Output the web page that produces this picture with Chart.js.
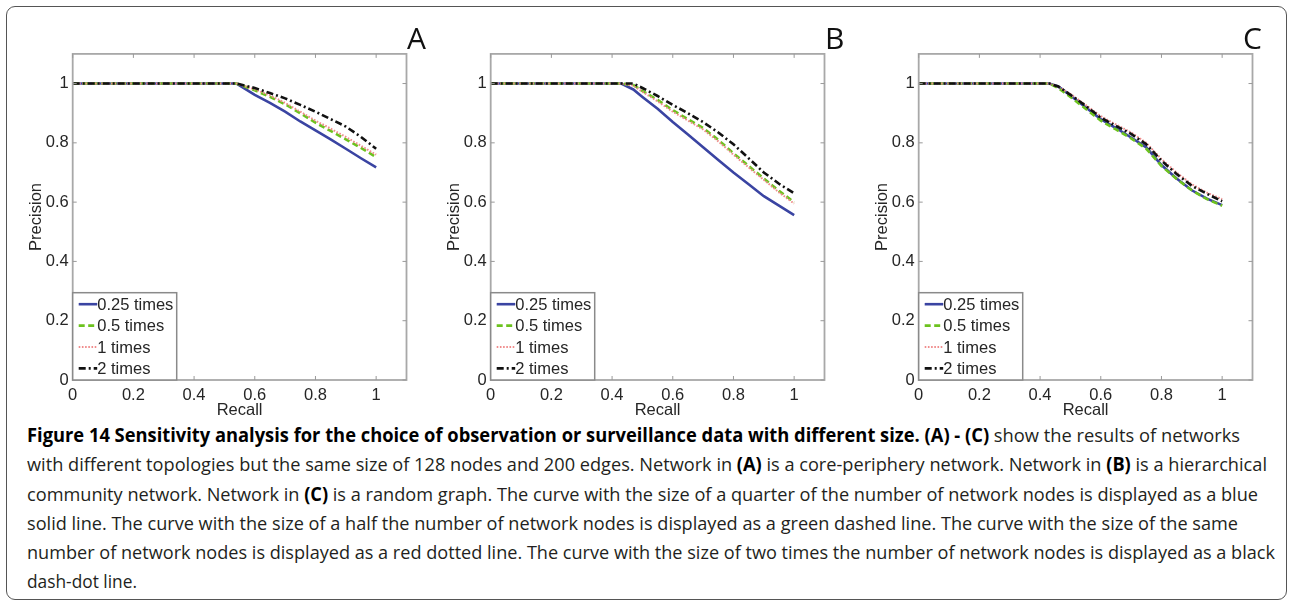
<!DOCTYPE html>
<html>
<head>
<meta charset="utf-8">
<script src="https://cdn.jsdelivr.net/npm/chart.js@4.4.1/dist/chart.umd.min.js"></script>
<style>
html,body{margin:0;padding:0;background:#fff;}
body{width:1290px;height:602px;position:relative;overflow:hidden;}
#frame{position:absolute;left:6px;top:6px;width:1279px;height:592px;border:1.5px solid #555;border-radius:9px;box-sizing:content-box;}
.panel{position:absolute;top:40px;width:400px;height:380px;}
.lbl{position:absolute;top:18px;font-family:'Open Sans',sans-serif;font-size:30px;color:#111;line-height:40px;}
#caption{position:absolute;left:27px;top:421px;font-family:'Open Sans',sans-serif;font-size:19px;line-height:29.3px;color:#231f20;white-space:nowrap;}
#caption .ln{display:block;transform-origin:left center;width:max-content;}
#caption b{color:#000;font-weight:700;}
</style>
</head>
<body>
<div id="frame"></div>
<div class="panel" style="left:10px"><canvas id="cA" width="400" height="380"></canvas></div>
<div class="panel" style="left:428px"><canvas id="cB" width="400" height="380"></canvas></div>
<div class="panel" style="left:856px"><canvas id="cC" width="400" height="380"></canvas></div>
<div class="lbl" style="left:407px">A</div>
<div class="lbl" style="left:825px">B</div>
<div class="lbl" style="left:1243px">C</div>
<div id="caption">
<span class="ln"><b>Figure 14 Sensitivity analysis for the choice of observation or surveillance data with different size. (A) - (C)</b> show the results of networks</span>
<span class="ln">with different topologies but the same size of 128 nodes and 200 edges. Network in <b>(A)</b> is a core-periphery network. Network in <b>(B)</b> is a hierarchical</span>
<span class="ln">community network. Network in <b>(C)</b> is a random graph. The curve with the size of a quarter of the number of network nodes is displayed as a blue</span>
<span class="ln">solid line. The curve with the size of a half the number of network nodes is displayed as a green dashed line. The curve with the size of the same</span>
<span class="ln">number of network nodes is displayed as a red dotted line. The curve with the size of two times the number of network nodes is displayed as a black</span>
<span class="ln">dash-dot line.</span>
</div>
<script>
// ---------------- data ----------------
const seriesNames = ['0.25 times', '0.5 times', '1 times', '2 times'];
const tickValues = [0, 0.2, 0.4, 0.6, 0.8, 1];
const tickLabels = ['0', '0.2', '0.4', '0.6', '0.8', '1'];

// Panel A (core-periphery network)
const recallA    = [0, 0.54, 0.6, 0.65, 0.7, 0.75, 0.8, 0.85, 0.9, 0.95, 1];
const quarterA   = [1, 1, 0.962, 0.935, 0.905, 0.872, 0.842, 0.812, 0.780, 0.748, 0.717];
const halfA      = [1, 1, 0.977, 0.955, 0.930, 0.900, 0.868, 0.840, 0.812, 0.783, 0.752];
const sameA      = [1, 1, 0.980, 0.960, 0.935, 0.905, 0.875, 0.848, 0.820, 0.790, 0.760];
const doubleA    = [1, 1, 0.985, 0.968, 0.950, 0.928, 0.905, 0.880, 0.855, 0.820, 0.780];

// Panel B (hierarchical community network)
const recallB    = [0, 0.43, 0.47, 0.5, 0.55, 0.6, 0.65, 0.7, 0.75, 0.8, 0.85, 0.9, 0.95, 1];
const quarterB   = [1, 1, 0.980, 0.955, 0.915, 0.870, 0.828, 0.785, 0.742, 0.700, 0.660, 0.620, 0.588, 0.556];
const halfB      = [1, 1, 0.995, 0.975, 0.945, 0.910, 0.880, 0.850, 0.810, 0.765, 0.722, 0.680, 0.638, 0.600];
const sameB      = [1, 1, 0.993, 0.972, 0.940, 0.905, 0.875, 0.845, 0.805, 0.760, 0.717, 0.675, 0.633, 0.595];
const doubleB    = [1, 1, 1.000, 0.985, 0.958, 0.928, 0.900, 0.870, 0.835, 0.795, 0.748, 0.700, 0.662, 0.630];

// Panel C (random graph)
const recallC    = [0, 0.43, 0.46, 0.5, 0.55, 0.6, 0.65, 0.7, 0.75, 0.8, 0.85, 0.9, 0.95, 1];
const quarterC   = [1, 1, 0.990, 0.960, 0.920, 0.880, 0.850, 0.818, 0.785, 0.725, 0.680, 0.640, 0.612, 0.590];
const halfC      = [1, 1, 0.985, 0.955, 0.915, 0.875, 0.845, 0.815, 0.780, 0.722, 0.678, 0.640, 0.610, 0.588];
const sameC      = [1, 1, 0.990, 0.965, 0.928, 0.890, 0.862, 0.835, 0.800, 0.745, 0.700, 0.660, 0.632, 0.610];
const doubleC    = [1, 1, 0.990, 0.962, 0.925, 0.885, 0.857, 0.830, 0.795, 0.740, 0.695, 0.655, 0.628, 0.603];

// ---------------- styles ----------------
const lineStyles = [
  {color: '#3a44a2', dash: [],            width: 2.6, order: 3},
  {color: '#6cc21e', dash: [6, 3.5],      width: 2.6, order: 2},
  {color: '#f08c8c', dash: [1.6, 1.6],    width: 2.0, order: 1},
  {color: '#111111', dash: [7, 3, 2, 3],  width: 2.6, order: 0}
];
const axisFont = {family: "'Liberation Sans', Arial, sans-serif", size: 16.5};
const textColor = '#262626';
const boxColor = '#a8a8a8';

Chart.defaults.font.family = axisFont.family;

const matlabPlugin = {
  id: 'matlabBox',
  afterDraw(chart) {
    const {ctx, chartArea: ca, scales} = chart;
    ctx.save();
    // box
    ctx.strokeStyle = boxColor;
    ctx.lineWidth = 1.8;
    ctx.strokeRect(ca.left, ca.top, ca.right - ca.left, ca.bottom - ca.top);
    // inward ticks on all sides
    ctx.lineWidth = 1;
    ctx.strokeStyle = '#999';
    const tl = 4;
    ctx.beginPath();
    tickValues.forEach(v => {
      const px = scales.x.getPixelForValue(v);
      ctx.moveTo(px, ca.bottom); ctx.lineTo(px, ca.bottom - tl);
      ctx.moveTo(px, ca.top); ctx.lineTo(px, ca.top + tl);
      const py = scales.y.getPixelForValue(v);
      ctx.moveTo(ca.left, py); ctx.lineTo(ca.left + tl, py);
      ctx.moveTo(ca.right, py); ctx.lineTo(ca.right - tl, py);
    });
    ctx.stroke();
    // legend box in the lower left corner
    const lw = 104, lh = 87.3;
    const lx = ca.left, ly = ca.bottom - lh;
    ctx.fillStyle = '#fff';
    ctx.fillRect(lx, ly, lw, lh);
    ctx.strokeStyle = '#8a8a8a';
    ctx.lineWidth = 1.5;
    ctx.strokeRect(lx, ly, lw, lh);
    ctx.font = axisFont.size + 'px ' + axisFont.family;
    ctx.textBaseline = 'middle';
    ctx.textAlign = 'left';
    chart.data.datasets.forEach((ds, i) => {
      const cy = ly + 11.5 + i * 21.4;
      ctx.beginPath();
      ctx.setLineDash(ds.borderDash || []);
      ctx.strokeStyle = ds.borderColor;
      ctx.lineWidth = ds.borderWidth;
      ctx.moveTo(lx + 6, cy);
      ctx.lineTo(lx + 24.5, cy);
      ctx.stroke();
      ctx.setLineDash([]);
      ctx.fillStyle = textColor;
      ctx.fillText(ds.label, lx + 24.5, cy + 1);
    });
    ctx.restore();
  }
};

function makeChart(id, recall, series) {
  const datasets = series.map((ys, i) => ({
    label: seriesNames[i],
    data: recall.map((x, j) => ({x: x, y: ys[j]})),
    borderColor: lineStyles[i].color,
    borderDash: lineStyles[i].dash,
    borderWidth: lineStyles[i].width,
    order: lineStyles[i].order,
    pointRadius: 0,
    tension: 0,
    fill: false
  }));
  return new Chart(document.getElementById(id), {
    type: 'line',
    data: {datasets},
    plugins: [matlabPlugin],
    options: {
      responsive: false,
      animation: false,
      events: [],
      layout: {padding: {top: 8.5, right: 3.5, left: 0, bottom: 0}},
      plugins: {legend: {display: false}, tooltip: {enabled: false}},
      scales: {
        x: {
          type: 'linear', min: 0, max: 1.1,
          afterBuildTicks: s => { s.ticks = tickValues.map(v => ({value: v})); },
          afterFit: s => { s.height = 40; },
          grid: {display: false, drawTicks: false},
          border: {display: false},
          ticks: {autoSkip: false, maxRotation: 0, padding: 6, color: textColor, font: axisFont,
                  callback: v => tickLabels[tickValues.indexOf(v)]},
          title: {display: true, text: 'Recall', color: textColor, font: axisFont, padding: {top: 0, bottom: 0}}
        },
        y: {
          type: 'linear', min: 0, max: 1.1,
          afterBuildTicks: s => { s.ticks = tickValues.map(v => ({value: v})); },
          afterFit: s => { s.width = 62.7; },
          grid: {display: false, drawTicks: false},
          border: {display: false},
          ticks: {autoSkip: false, padding: 4, color: textColor, font: axisFont,
                  callback: v => tickLabels[tickValues.indexOf(v)]},
          title: {display: true, text: 'Precision', color: textColor, font: axisFont, padding: {top: 16.5, bottom: 0}}
        }
      }
    }
  });
}

makeChart('cA', recallA, [quarterA, halfA, sameA, doubleA]);
makeChart('cB', recallB, [quarterB, halfB, sameB, doubleB]);
makeChart('cC', recallC, [quarterC, halfC, sameC, doubleC]);

// fit caption lines to the measured line lengths of the figure
const captionWidths = [1213, 1240, 1231, 1211, 1248, 110];
document.querySelectorAll('#caption .ln').forEach((el, i) => {
  const w = el.getBoundingClientRect().width;
  el.style.transform = 'scaleX(' + (captionWidths[i] / w) + ')';
});
</script>
</body>
</html>
